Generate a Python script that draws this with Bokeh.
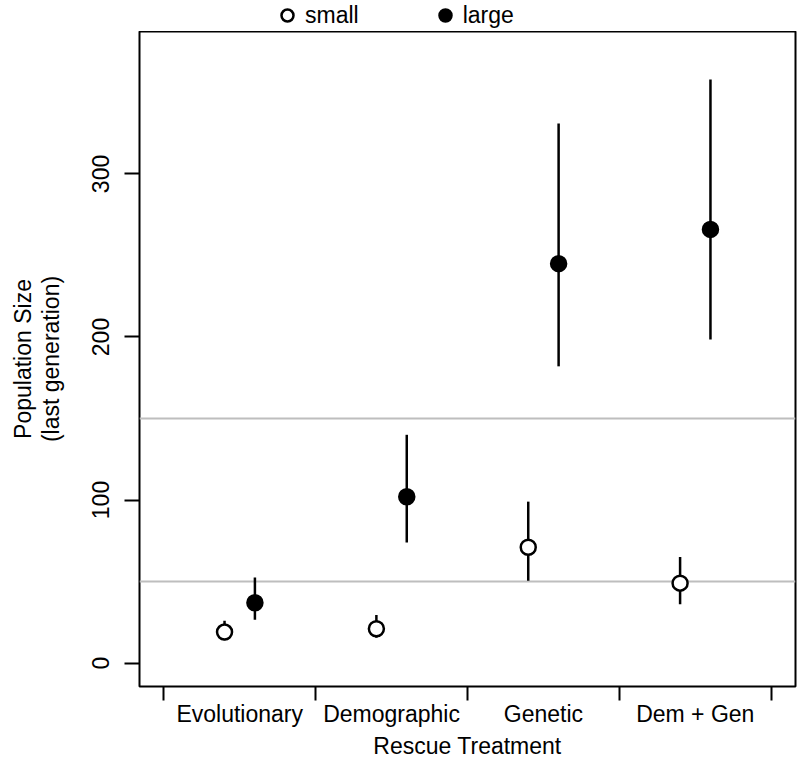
import numpy as np
from bokeh.plotting import figure
from bokeh.layouts import column
from bokeh.models import FixedTicker, Span, Legend, LegendItem, ColumnDataSource
from bokeh.embed import file_html
from bokeh.resources import INLINE

categories = ["Evolutionary", "Demographic", "Genetic", "Dem + Gen"]
small_mean = [19, 21, 71, 49]
small_lo = [14, 15.5, 50.5, 36]
small_hi = [26, 29.5, 99, 65]
large_mean = [37, 102, 245, 266]
large_lo = [26.5, 74, 182, 198.5]
large_hi = [52.5, 140, 331, 358]
ref_lines = [50, 150]
y_ticks = [0, 100, 200, 300]

FONT = "Liberation Sans"
FS = "23px"
LEG_H = 31

pos = np.arange(1, len(categories) + 1)
xs_small = pos - 0.1
xs_large = pos + 0.1

p = figure(width=799, height=770 - LEG_H, x_range=(0.34, 4.66), y_range=(-14.4, 387.4),
           output_backend="svg", toolbar_location=None,
           min_border_left=139, min_border_right=4, min_border_top=0, min_border_bottom=84)
p.xgrid.visible = False
p.ygrid.visible = False
p.outline_line_color = "black"
p.outline_line_width = 2
p.background_fill_color = "white"
p.border_fill_color = "white"

for v in ref_lines:
    p.add_layout(Span(location=v, dimension="width", line_color="#BEBEBE", line_width=2, level="underlay"))

src_s = ColumnDataSource(dict(x=xs_small, y=small_mean, lo=small_lo, hi=small_hi))
src_l = ColumnDataSource(dict(x=xs_large, y=large_mean, lo=large_lo, hi=large_hi))

p.segment(x0="x", y0="lo", x1="x", y1="hi", source=src_s, line_color="black", line_width=2.5)
p.segment(x0="x", y0="lo", x1="x", y1="hi", source=src_l, line_color="black", line_width=2.5)
p.scatter("x", "y", source=src_s, marker="circle", size=15, fill_color="white",
          line_color="black", line_width=2.5)
p.scatter("x", "y", source=src_l, marker="circle", size=15, fill_color="black",
          line_color="black", line_width=2.5)

# x axis
xa = p.xaxis[0]
xa.ticker = FixedTicker(ticks=list(pos), minor_ticks=list(np.arange(0.5, len(categories) + 1, 1.0)))
xa.major_label_overrides = {int(i): c for i, c in zip(pos, categories)}
xa.major_tick_out = 0
xa.major_tick_in = 0
xa.minor_tick_out = 14
xa.minor_tick_in = 0
xa.minor_tick_line_color = "black"
xa.minor_tick_line_width = 2
xa.axis_line_color = None
xa.major_label_standoff = 0
xa.major_label_text_font = FONT
xa.major_label_text_font_size = FS
xa.major_label_text_color = "black"
xa.axis_label = "Rescue Treatment"
xa.axis_label_text_font = FONT
xa.axis_label_text_font_size = FS
xa.axis_label_text_font_style = "normal"
xa.axis_label_text_color = "black"
xa.axis_label_standoff = 3

# y axis
ya = p.yaxis[0]
ya.ticker = FixedTicker(ticks=y_ticks, minor_ticks=[])
ya.major_tick_out = 15
ya.major_tick_in = 0
ya.major_tick_line_width = 2
ya.major_tick_line_color = "black"
ya.minor_tick_out = 0
ya.minor_tick_in = 0
ya.axis_line_color = None
ya.major_label_orientation = "vertical"
ya.major_label_standoff = 15
ya.major_label_text_font = FONT
ya.major_label_text_font_size = FS
ya.major_label_text_color = "black"
ya.axis_label = "Population Size\n(last generation)"
ya.axis_label_text_font = FONT
ya.axis_label_text_font_size = FS
ya.axis_label_text_font_style = "normal"
ya.axis_label_text_color = "black"
ya.axis_label_text_line_height = 1.05
ya.axis_label_standoff = 26

# legend strip above the plot box (its frame is aligned with the main plot's frame)
lg = figure(width=799, height=LEG_H, output_backend="svg", toolbar_location=None,
            min_border=0, x_range=(0, 1), y_range=(0, 1))
lg.axis.visible = False
lg.grid.visible = False
lg.outline_line_color = None
lg.border_fill_color = "white"
# legend-only proxies, kept outside the visible range
d_s = lg.scatter(x=[-5], y=[-5], marker="circle", fill_color="white", line_color="black", line_width=2.5)
d_l = lg.scatter(x=[-5], y=[-5], marker="circle", fill_color="black", line_color="black", line_width=2.5)
legend = Legend(items=[LegendItem(label="small", renderers=[d_s]),
                       LegendItem(label="large", renderers=[d_l])],
                orientation="horizontal", location=(133, 1),
                glyph_width=30, glyph_height=30, label_standoff=3, spacing=71,
                padding=0, margin=0, border_line_color=None, background_fill_alpha=0,
                label_text_font=FONT, label_text_font_size=FS, label_text_color="black")
lg.add_layout(legend, "center")

layout = column(lg, p, spacing=0)
open("out.html", "w").write(file_html(layout, INLINE))
